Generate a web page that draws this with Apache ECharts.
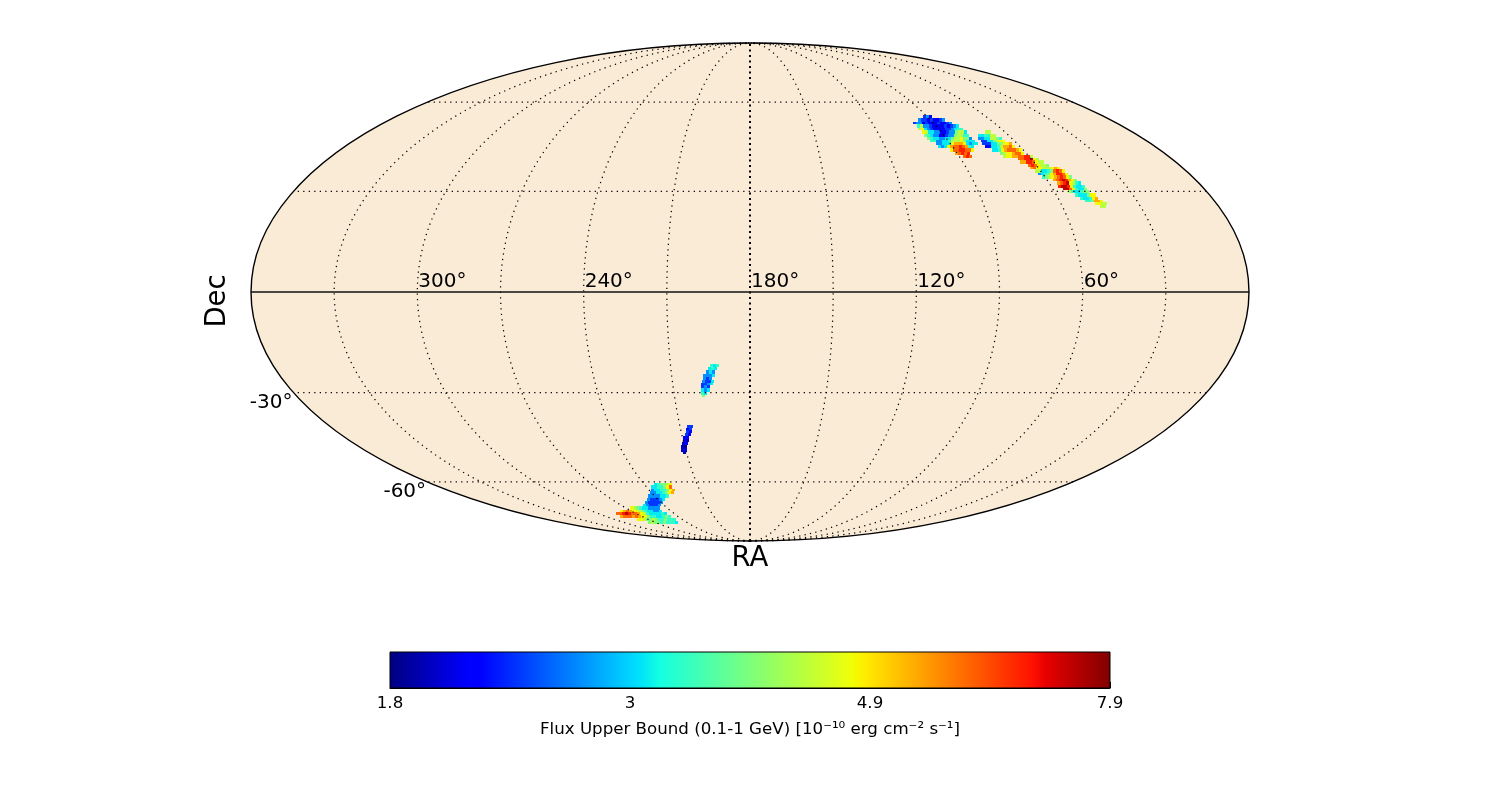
<!DOCTYPE html>
<html><head><meta charset="utf-8"><style>html,body{margin:0;background:#fff}#c{width:1500px;height:800px}</style></head>
<body><div id="c"></div>
<script src="https://cdn.jsdelivr.net/npm/echarts@6/dist/echarts.min.js"></script>
<script>
// Upper-bound flux levels
const fluxLevels = {N:1.95,B:2.1,b:2.35,u:2.67,c:3.04,t:3.3,g:3.77,l:4.2,y:4.7,o:5.3,O:5.9,r:6.6,d:7.3};
const fluxMin = 1.8, fluxMax = 7.9;
const colorbarTicks = ['1.8','3','4.9','7.9'];
const raTicks = [300,240,180,120,60];
const decTicks = [-30,-60];
const meridians = [30,60,90,120,150,180,210,240,270,300,330];
const parallels = [-60,-30,30,60];
// Each row: decTop, decBottom, raStart, raStep (degrees), flux letters from east to west across the row
const northRows = [
[55.1,54.0,92.3,1.52,"buB"],[54.0,52.9,96.2,1.50,"ubbBbBBbu"],[52.9,51.9,99.9,1.47,"buuBbBBBbBBbu"],
[51.9,50.8,99.2,1.45,"tluubBBBBbBbuc"],[50.8,49.8,99.8,1.43,"lycubBBBBbbuctt"],[49.8,48.7,99.0,1.41,"ylccuuBBbuugllc"],
[49.8,48.7,69.4,1.41,"ll"],[48.7,47.7,99.1,1.39,"gtcuuBBbuuglltt"],[48.7,47.7,74.0,1.39,"ccttll"],
[47.7,46.7,98.7,1.38,"gtccuuccgllyggu"],[47.7,46.7,75.3,1.38,"uuccllgt"],[46.7,45.7,98.3,1.36,"ttuucctlllygccc"],
[46.7,45.7,75.2,1.36,"bbccglyy"],[45.7,44.7,96.6,1.35,"uucccyoooycucc"],[45.7,44.7,75.9,1.35,"bbbccggyyo"],
[44.7,43.7,96.6,1.33,"cucyoOOrOotc"],[44.7,43.7,75.7,1.33,"BBcctlooOy"],[43.7,42.7,92.2,1.32,"yOOrrOOy"],
[43.7,42.7,73.7,1.32,"cctyoOOOoy"],[42.7,41.7,90.9,1.30,"oOrOr"],[42.7,41.7,71.3,1.30,"glyyoOOy"],
[41.7,40.7,88.3,1.29,"OrO"],[41.7,40.7,71.1,1.29,"lyyooOOrrl"],[40.7,39.8,65.6,1.28,"OOrrdyl"],
[39.8,38.8,65.8,1.27,"oorrOyll"],[38.8,37.8,63.4,1.26,"OrOyllg"],[37.8,36.9,63.5,1.25,"oOyylllyoy"],
[36.9,35.9,62.4,1.24,"llcctgOrOy"],[35.9,35.0,62.0,1.23,"uctgyorrOy"],[35.0,34.0,61.2,1.22,"tglyoOrOyg"],
[34.0,33.1,57.6,1.21,"oOrdroyg"],[33.1,32.1,56.8,1.20,"oOrdyltc"],[32.1,31.2,57.2,1.20,"rddrytcct"],
[31.2,30.3,56.0,1.19,"ddOytccg"],[30.3,29.4,54.7,1.18,"ltcctgg"],[29.4,28.4,52.7,1.17,"tcccgyy"],
[28.4,27.5,51.4,1.17,"tcctyo"],[27.5,26.6,50.2,1.16,"ttgooy"],[26.6,25.7,47.0,1.16,"yyll"],[25.7,24.8,45.7,1.15,"ll"]];
const midUpperRows = [
[-21.4,-22.3,195.1,1.13,"tct"],[-22.3,-23.2,195.9,1.14,"ctc"],[-23.2,-24.2,196.8,1.14,"ucu"],[-24.2,-25.1,198.0,1.15,"uuuc"],
[-25.1,-26.0,198.1,1.15,"ubu"],[-26.0,-26.9,198.5,1.16,"ubbc"],[-26.9,-27.8,199.0,1.16,"bbuc"],[-27.8,-28.7,199.1,1.17,"bub"],
[-28.7,-29.7,199.2,1.18,"cuc"],[-29.7,-30.6,199.3,1.18,"tc"],[-30.6,-31.5,199.1,1.19,"g"]];
const midLowerRows = [
[-40.1,-41.1,207.0,1.28,"bb"],[-41.1,-42.0,207.6,1.30,"Bb"],[-42.0,-43.0,207.9,1.31,"bB"],[-43.0,-44.0,208.6,1.32,"bB"],
[-44.0,-45.0,209.8,1.34,"BB"],[-45.0,-46.0,210.2,1.35,"BN"],[-46.0,-47.0,211.0,1.37,"NB"],[-47.0,-48.1,211.8,1.38,"NN"],
[-48.1,-49.1,212.2,1.40,"NB"],[-49.1,-50.1,211.7,1.42,"N"]];
const southRows = [
[-60.3,-61.4,234.4,1.70,"ctggly"],[-61.4,-62.6,237.4,1.74,"ccttgyO"],[-62.6,-63.7,238.9,1.78,"uccttgyo"],[-63.7,-64.9,241.1,1.83,"uucctgyo"],
[-64.9,-66.2,244.2,1.89,"uuuucct"],[-66.2,-67.4,246.9,1.95,"ubbbuc"],[-67.4,-68.7,250.5,2.01,"ubbbbu"],[-68.7,-69.9,254.5,2.09,"cubbbu"],
[-69.9,-71.3,267.0,2.18,"ylgtccuuuu"],[-71.3,-72.6,278.5,2.27,"yoOoyylgtccuuc"],[-72.6,-74.0,286.7,2.39,"OOrdrOOoyltcccctc"],
[-74.0,-75.4,289.5,2.53,"oOOOoOoyygttcctgt"],[-75.4,-76.9,281.4,2.69,"yylgglgttgttt"],[-76.9,-78.4,278.6,2.90,"glggtgtttc"]];

const FONT = '"DejaVu Sans"';
// Mollweide projection onto the plane axes (-1..1 on both); RA grows to the left with 180 in the centre
function mollweide(ra, dec) {
  const target = Math.PI * Math.sin(dec * Math.PI / 180);
  let lo = -Math.PI / 2, hi = Math.PI / 2;
  for (let i = 0; i < 50; i++) {
    const t = (lo + hi) / 2;
    if (2 * t + Math.sin(2 * t) < target) lo = t; else hi = t;
  }
  const t = (lo + hi) / 2;
  return [(180 - ra) / 180 * Math.cos(t), Math.sin(t)];
}
function clamp01(v){return Math.max(0,Math.min(1,v));}
function jet(t) {
  const r = t<.35?0:t<.66?(t-.35)/.31:t<.89?1:1-.5*(t-.89)/.11;
  const g = t<.125?0:t<.375?(t-.125)/.25:t<.64?1:t<.91?1-(t-.64)/.27:0;
  const b = t<.11?.5+.5*t/.11:t<.34?1:t<.65?1-(t-.34)/.31:0;
  return 'rgb('+[r,g,b].map(v=>Math.round(clamp01(v)*255)).join(',')+')';
}
function fluxColor(f){return jet(Math.log(f/fluxMin)/Math.log(fluxMax/fluxMin));}

const cells = [];
[northRows, midUpperRows, midLowerRows, southRows].forEach(rows => rows.forEach(row => {
  const [decT, decB, ra0, step, letters] = row;
  for (let i = 0; i < letters.length; i++) cells.push([ra0 - i*step, ra0 - (i+1)*step, decT, decB, fluxLevels[letters[i]]]);
}));

const gradientStops = [0,.11,.125,.34,.35,.375,.64,.65,.66,.89,.91,1].map(o=>({offset:o,color:jet(o)}));
function sample(from,to,stepv,fn){const p=[];for(let v=from;v<=to+1e-9;v+=stepv)p.push(fn(v));return p;}
const dotted = {fill:null,stroke:'#000',lineWidth:1.25,lineDash:[1.25,4.25]};
const dottedCentre = {fill:null,stroke:'#000',lineWidth:2,lineDash:[2,3.5]};

const base = {type:'custom',coordinateSystem:'cartesian2d',xAxisIndex:0,yAxisIndex:0,silent:true,clip:false,animation:false};
const chart = echarts.init(document.getElementById('c'),null,{renderer:'canvas'});
chart.setOption({
  animation:false,
  backgroundColor:'#fff',
  textStyle:{fontFamily:FONT},
  grid:[{left:251,top:43,width:998,height:498},{left:390,top:652,width:720,height:36}],
  xAxis:[
    {type:'value',gridIndex:0,min:-1,max:1,name:'RA',nameLocation:'middle',nameGap:4,
     nameTextStyle:{fontSize:27.5,color:'#000',fontFamily:FONT},
     axisLine:{show:false},axisTick:{show:false},axisLabel:{show:false},splitLine:{show:false}},
    {type:'value',gridIndex:1,min:0,max:3,interval:1,
     name:'Flux Upper Bound (0.1-1 GeV) [10\u207B\u00B9\u2070 erg cm\u207B\u00B2 s\u207B\u00B9]',
     nameLocation:'middle',nameGap:33,nameTextStyle:{fontSize:16.67,color:'#000',fontFamily:FONT},
     axisLine:{show:true,lineStyle:{color:'#000',width:1}},
     axisTick:{show:true,inside:true,length:6,lineStyle:{color:'#000',width:1}},
     axisLabel:{show:true,fontSize:16.67,color:'#000',fontFamily:FONT,margin:7,formatter:(v)=>colorbarTicks[Math.round(v)]},
     splitLine:{show:false}}
  ],
  yAxis:[
    {type:'value',gridIndex:0,min:-1,max:1,name:'Dec',nameLocation:'middle',nameGap:19,nameRotate:90,
     nameTextStyle:{fontSize:27.5,color:'#000',fontFamily:FONT,padding:[0,18,0,0]},
     axisLine:{show:false},axisTick:{show:false},axisLabel:{show:false},splitLine:{show:false}},
    {type:'value',gridIndex:1,min:0,max:1,show:false}
  ],
  series:[
    Object.assign({},base,{z:1,data:[[0,0]],renderItem:(p,api)=>{
      const c=api.coord([0,0]),s=api.size([1,1]);
      return {type:'ellipse',shape:{cx:c[0],cy:c[1],rx:s[0],ry:s[1]},style:{fill:'#faebd7',stroke:null}};
    }}),
    Object.assign({},base,{z:2,data:cells,dimensions:['raL','raR','decT','decB','flux'],encode:{x:0,y:2},renderItem:(p,api)=>{
      const raL=api.value(0),raR=api.value(1),dT=api.value(2),dB=api.value(3),col=fluxColor(api.value(4));
      const dM=(dT+dB)/2;
      const x0=Math.round(api.coord(mollweide(raL,dM))[0]),x1=Math.round(api.coord(mollweide(raR,dM))[0]);
      const y0=Math.round(api.coord(mollweide(raL,dT))[1]),y1=Math.round(api.coord(mollweide(raL,dB))[1]);
      return {type:'rect',shape:{x:x0,y:y0,width:x1-x0,height:y1-y0},style:{fill:col,stroke:null}};
    }}),
    Object.assign({},base,{z:3,data:meridians.map(m=>[m,0]),renderItem:(p,api)=>{
      const ra=api.value(0);
      const pts=sample(-90,90,1,d=>api.coord(mollweide(ra,d)));
      return {type:'polyline',shape:{points:pts},style:ra===180?dottedCentre:dotted};
    }}),
    Object.assign({},base,{z:3,data:parallels.map(d=>[0,d]),renderItem:(p,api)=>{
      const d=api.value(1);
      const pts=sample(0,360,4,r=>api.coord(mollweide(r,d)));
      return {type:'polyline',shape:{points:pts},style:dotted};
    }}),
    Object.assign({},base,{z:4,data:[[0,0]],renderItem:(p,api)=>{
      const a=api.coord(mollweide(0,0)),b=api.coord(mollweide(360,0));
      return {type:'line',shape:{x1:a[0],y1:a[1],x2:b[0],y2:b[1]},style:{stroke:'#111',lineWidth:1.5}};
    }}),
    Object.assign({},base,{z:4,data:[[0,0]],renderItem:(p,api)=>{
      const c=api.coord([0,0]),s=api.size([1,1]);
      return {type:'ellipse',shape:{cx:c[0],cy:c[1],rx:s[0],ry:s[1]},style:{fill:null,stroke:'#000',lineWidth:1.4}};
    }}),
    Object.assign({},base,{z:5,data:raTicks.map(r=>[r,0]),renderItem:(p,api)=>{
      const ra=api.value(0),c=api.coord(mollweide(ra,0));
      return {type:'text',x:c[0]+1,y:c[1]-10,style:{text:ra+'\u00B0',fill:'#000',font:'20px '+FONT,align:'left',verticalAlign:'middle'}};
    }}),
    Object.assign({},base,{z:5,data:decTicks.map(d=>[0,d]),renderItem:(p,api)=>{
      const d=api.value(1),c=api.coord(mollweide(360,d));
      return {type:'text',x:c[0]-1,y:c[1]+10,style:{text:d+'\u00B0',fill:'#000',font:'20px '+FONT,align:'right',verticalAlign:'middle'}};
    }}),
    {type:'custom',coordinateSystem:'cartesian2d',xAxisIndex:1,yAxisIndex:1,silent:true,animation:false,z:1,
     data:[[0,0]],renderItem:(p,api)=>{
      const a=api.coord([0,1]),b=api.coord([3,0]);
      return {type:'rect',shape:{x:a[0],y:a[1],width:b[0]-a[0],height:b[1]-a[1]},
        style:{fill:new echarts.graphic.LinearGradient(0,0,1,0,gradientStops),stroke:'#000',lineWidth:1}};
    }}
  ]
});
</script></body></html>
